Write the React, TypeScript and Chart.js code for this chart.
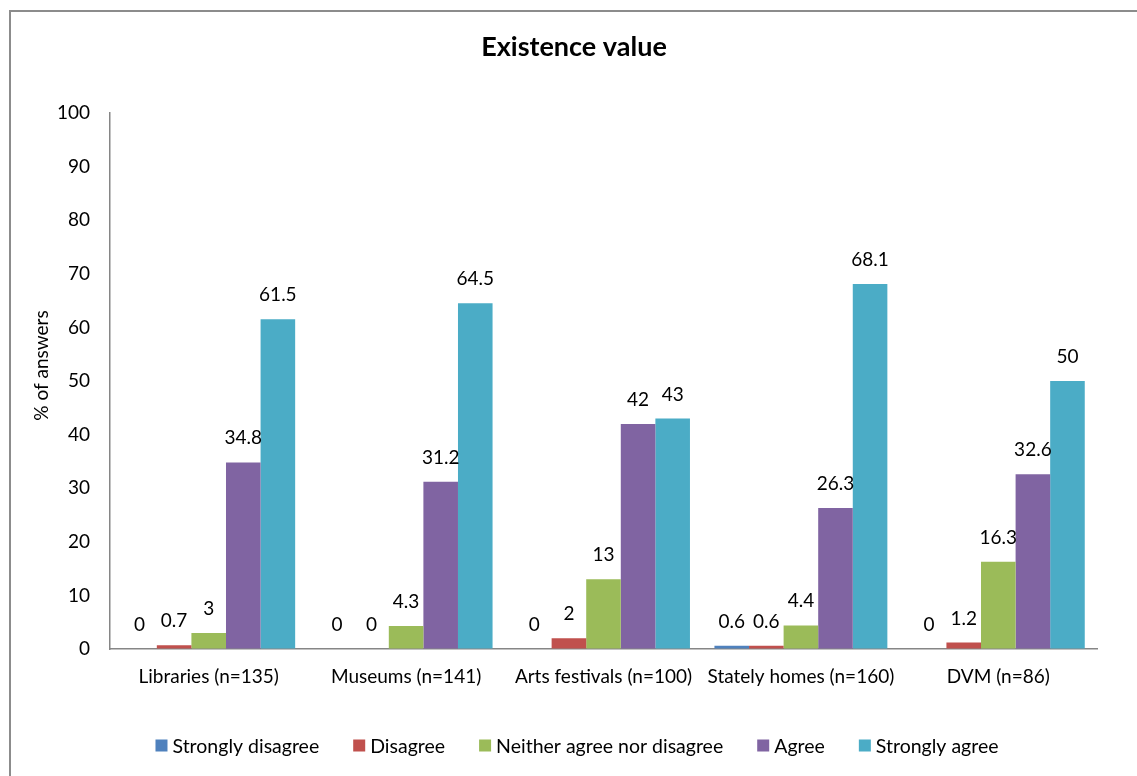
import React, { useEffect, useRef } from "react";
import { Chart, registerables } from "chart.js";

Chart.register(...registerables);

// Survey categories and the share of answers (%) for each response level
const categories = [
  "Libraries (n=135)",
  "Museums (n=141)",
  "Arts festivals (n=100)",
  "Stately homes (n=160)",
  "DVM (n=86)",
];
const stronglyDisagree = [0, 0, 0, 0.6, 0];
const disagree = [0.7, 0, 2, 0.6, 1.2];
const neither = [3, 4.3, 13, 4.4, 16.3];
const agree = [34.8, 31.2, 42, 26.3, 32.6];
const stronglyAgree = [61.5, 64.5, 43, 68.1, 50];

const seriesNames = [
  "Strongly disagree",
  "Disagree",
  "Neither agree nor disagree",
  "Agree",
  "Strongly agree",
];
const seriesColors = ["#4F81BD", "#C0504D", "#9BBB59", "#8064A2", "#4BACC6"];

const chartTitle = "Existence value";
const yAxisTitle = "% of answers";

const FONT = "Lato, 'Open Sans', sans-serif";
const TEXT_SIZE = 19;

// Light frame around the whole chart
const framePlugin = {
  id: "framePlugin",
  beforeDraw(chart: any) {
    const { ctx, width, height } = chart;
    ctx.save();
    ctx.fillStyle = "#ffffff";
    ctx.fillRect(0, 0, width, height);
    ctx.strokeStyle = "#8c8c8c";
    ctx.lineWidth = 2;
    ctx.strokeRect(10, 11, width + 20, height + 20);
    ctx.restore();
  },
};

// Value labels above each bar
const valueLabelPlugin = {
  id: "valueLabelPlugin",
  afterDatasetsDraw(chart: any) {
    const ctx = chart.ctx;
    ctx.save();
    ctx.font = `${TEXT_SIZE}px ${FONT}`;
    ctx.fillStyle = "#000000";
    ctx.textAlign = "center";
    ctx.textBaseline = "alphabetic";
    chart.data.datasets.forEach((ds: any, i: number) => {
      const meta = chart.getDatasetMeta(i);
      meta.data.forEach((bar: any, j: number) => {
        ctx.fillText(String(ds.data[j]), bar.x, bar.y - 18);
      });
    });
    ctx.restore();
  },
};

// Chart title, rotated y-axis title and bottom legend
const annotationPlugin = {
  id: "annotationPlugin",
  afterDraw(chart: any) {
    const ctx = chart.ctx;
    ctx.save();
    ctx.fillStyle = "#000000";

    // chart title
    ctx.font = `bold 27px ${FONT}`;
    ctx.textAlign = "center";
    ctx.textBaseline = "middle";
    ctx.fillText(chartTitle, 574, 47);

    // y-axis title
    ctx.font = `${TEXT_SIZE}px ${FONT}`;
    ctx.save();
    ctx.translate(41.5, 365.5);
    ctx.rotate(-Math.PI / 2);
    ctx.textAlign = "center";
    ctx.textBaseline = "middle";
    ctx.fillText(yAxisTitle, 0, 0);
    ctx.restore();

    // legend
    ctx.font = `19.5px ${FONT}`;
    const box = 12;
    const gap = 5;
    const spacing = 34;
    const items = chart.data.datasets.map((ds: any) => ({
      label: ds.label,
      color: ds.backgroundColor,
      w: box + gap + ctx.measureText(ds.label).width,
    }));
    const total =
      items.reduce((s: number, it: any) => s + it.w, 0) +
      spacing * (items.length - 1);
    let x = 577 - total / 2;
    const cy = 745.5;
    ctx.textAlign = "left";
    ctx.textBaseline = "middle";
    items.forEach((it: any) => {
      ctx.fillStyle = it.color;
      ctx.fillRect(x, cy - box / 2, box, box);
      ctx.fillStyle = "#000000";
      ctx.fillText(it.label, x + box + gap, cy + 1);
      x += it.w + spacing;
    });
    ctx.restore();
  },
};

export default function App() {
  const canvasRef = useRef<HTMLCanvasElement | null>(null);

  useEffect(() => {
    if (!canvasRef.current) return;
    const seriesValues = [stronglyDisagree, disagree, neither, agree, stronglyAgree];
    const chart = new Chart(canvasRef.current, {
      type: "bar",
      data: {
        labels: categories,
        datasets: seriesNames.map((name, i) => ({
          label: name,
          data: seriesValues[i],
          backgroundColor: seriesColors[i],
          borderWidth: 0,
          categoryPercentage: 0.876,
          barPercentage: 1,
        })),
      },
      options: {
        responsive: false,
        animation: false,
        devicePixelRatio: 1,
        font: { family: FONT, size: TEXT_SIZE },
        layout: { padding: { top: 113, left: 0, right: 40, bottom: 77 } },
        plugins: {
          legend: { display: false },
          tooltip: { enabled: false },
          title: { display: false },
        },
        scales: {
          x: {
            grid: { display: false, drawTicks: false },
            border: { display: true, color: "#868686", width: 1.5 },
            ticks: {
              color: "#000000",
              font: { family: FONT, size: TEXT_SIZE },
              padding: 16,
              maxRotation: 0,
              autoSkip: false,
            },
            afterFit(scale: any) {
              scale.height = 50;
            },
          },
          y: {
            min: 0,
            max: 100,
            grid: { color: "transparent", drawTicks: false },
            border: { display: true, color: "#868686", width: 1.5 },
            ticks: {
              stepSize: 10,
              color: "#000000",
              font: { family: FONT, size: TEXT_SIZE },
              padding: 20,
            },
            title: { display: false },
            afterFit(scale: any) {
              scale.width = 110;
            },
          },
        },
      },
      plugins: [framePlugin, valueLabelPlugin, annotationPlugin],
    });
    return () => chart.destroy();
  }, []);

  return (
    <div style={{ position: "absolute", left: 0, top: 0, width: 1137, height: 776 }}>
      <canvas ref={canvasRef} width={1137} height={776} style={{ width: 1137, height: 776 }} />
    </div>
  );
}
